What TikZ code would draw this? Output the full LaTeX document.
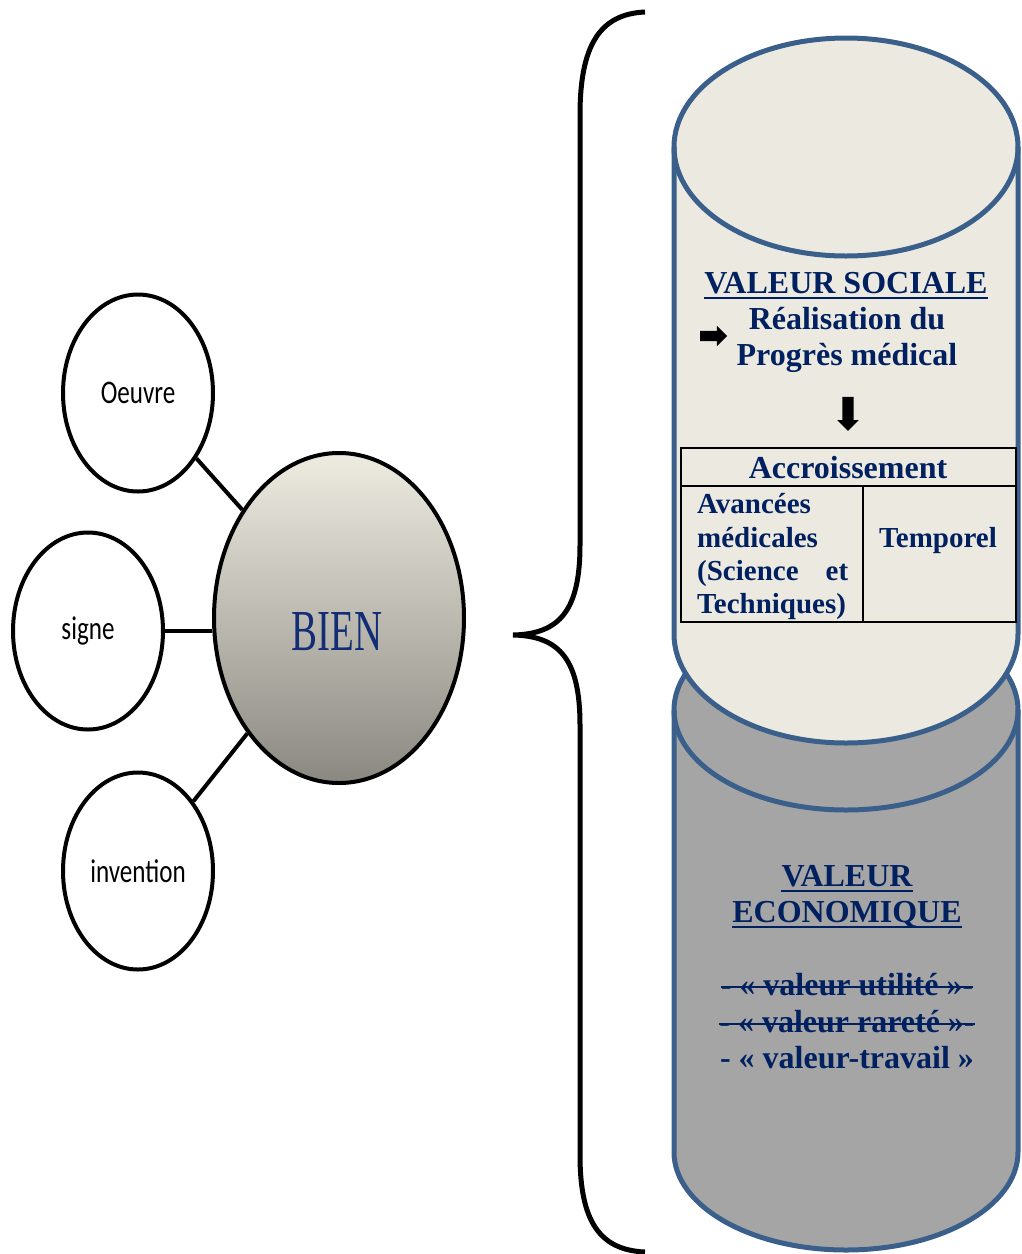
\documentclass[tikz,border=0pt]{standalone}
\usepackage{graphicx}
\usepackage{fontspec}
\setmainfont{Liberation Serif}
\newfontfamily\labelfont{Carlito}
\usetikzlibrary{shapes.geometric}
\usetikzlibrary{shapes.arrows}

\definecolor{inkblue}{RGB}{0,32,96}
\definecolor{bienblue}{RGB}{18,44,118}
\definecolor{rimblue}{RGB}{58,95,139}
\definecolor{creamfill}{RGB}{236,234,224}
\definecolor{greyfill}{RGB}{165,165,165}
\definecolor{bientop}{RGB}{238,236,225}
\definecolor{bienbottom}{RGB}{138,136,128}

\newcommand{\narrow}[2]{\scalebox{#1}[1]{#2}}

\begin{document}
\begin{tikzpicture}[x=1pt, y=1pt,
    bubble/.style={ellipse, draw=black, line width=4pt, fill=white, inner sep=0pt,
                   minimum width=150pt, minimum height=197pt,
                   font=\labelfont\fontsize{33}{36}\selectfont},
    link/.style={line width=4pt},
    rim/.style={draw=rimblue, line width=5pt, line join=round},
    bigtext/.style={text=inkblue, font=\bfseries\fontsize{32}{36}\selectfont,
                    inner sep=0pt, anchor=base},
    celltext/.style={text=inkblue, font=\bfseries\fontsize{29}{34}\selectfont,
                     inner sep=0pt, anchor=base west},
    rule/.style={draw=inkblue, line width=2.5pt},
    blockarrow/.style={single arrow, fill=black, inner xsep=0pt,
                       single arrow head extend=5pt}]
    \useasboundingbox (0,0) rectangle (1021,-1254);

    % lower cylinder
    \filldraw[rim, fill=greyfill] (674,-710) -- (674,-1152)
        arc[start angle=180, end angle=360, x radius=172, y radius=98]
        -- (1018,-710) arc[start angle=0, end angle=180, x radius=172, y radius=100] -- cycle;
    \draw[rim] (674,-710) arc[start angle=180, end angle=360, x radius=172, y radius=100];

    % upper cylinder
    \filldraw[rim, fill=creamfill] (674,-147) -- (674,-634)
        arc[start angle=180, end angle=360, x radius=172, y radius=109]
        -- (1018,-147) arc[start angle=0, end angle=180, x radius=172, y radius=109] -- cycle;
    \draw[rim] (674,-147) arc[start angle=180, end angle=360, x radius=172, y radius=109];

    % brace
    \draw[line width=5pt] (645,-12) .. controls (600,-14) and (580,-45) .. (580,-115)
        -- (580,-545) .. controls (580,-610) and (560,-634) .. (513,-635)
        .. controls (560,-636) and (580,-660) .. (580,-725)
        -- (580,-1155) .. controls (580,-1222) and (600,-1250) .. (645,-1252);

    % left part
    \node[bubble] (oeuvre) at (138,-393) {\narrow{0.76}{Oeuvre}};
    \node[bubble] (signe) at (88,-631) {\narrow{0.76}{signe}};
    \node[bubble] (invention) at (138,-871) {\narrow{0.76}{invention}};
    \node[ellipse, draw=black, line width=4pt, top color=bientop, bottom color=bienbottom,
          minimum width=250pt, minimum height=330pt, inner sep=0pt] (bien) at (339,-618) {};
    \node[text=bienblue, font=\fontsize{58}{62}\selectfont, inner sep=0pt] (bienlabel)
        at (337,-632) {\narrow{0.67}{BIEN}};
    \draw[link] (oeuvre) -- (bien);
    \draw[link] (signe.east) -- (signe.east -| bien.west);
    \draw[link] (invention) -- (bien);

    % valeur sociale
    \node[bigtext] (sociale) at (846,-293) {VALEUR SOCIALE};
    \draw[rule] ([yshift=-5pt]sociale.base west) -- ([yshift=-5pt]sociale.base east);
    \node[bigtext] (realisation) at (847,-329) {Réalisation du};
    \node[bigtext] (progres) at (847,-365) {Progrès médical};
    \node[blockarrow, inner ysep=5pt, minimum height=27pt] (versprogres) at (711,-336) {};
    \node[blockarrow, inner ysep=5.5pt, minimum height=34pt, rotate=-90] (versaccroissement) at (848,-411) {};

    % tableau
    \draw[line width=2.5pt] (681,-448) rectangle (1016,-622);
    \draw[line width=2.5pt] (681,-486) -- (1016,-486);
    \draw[line width=2.5pt] (863,-486) -- (863,-622);
    \node[bigtext] (accroissement) at (848,-478) {Accroissement};
    \node[celltext] (avancees) at (697,-513) {Avancées};
    \node[celltext] (medicales) at (697,-547) {médicales};
    \node[celltext] (science) at (697,-580) {\makebox[151pt][s]{(Science et}};
    \node[celltext] (techniques) at (697,-613) {Techniques)};
    \node[celltext, anchor=base] (temporel) at (938,-547) {Temporel};

    % valeur economique
    \node[bigtext] (valeur) at (847,-886) {VALEUR};
    \draw[rule] ([yshift=-5pt]valeur.base west) -- ([yshift=-5pt]valeur.base east);
    \node[bigtext] (economique) at (847,-922) {ECONOMIQUE};
    \draw[rule] ([yshift=-5pt]economique.base west) -- ([yshift=-5pt]economique.base east);
    \node[bigtext] (utilite) at (847,-995) {- « valeur utilité »-};
    \draw[rule, line width=2pt] ([yshift=8pt]utilite.base west) -- ([yshift=8pt]utilite.base east);
    \node[bigtext] (rarete) at (847,-1032) {- « valeur rareté »-};
    \draw[rule, line width=2pt] ([yshift=8pt]rarete.base west) -- ([yshift=8pt]rarete.base east);
    \node[bigtext] (travail) at (847,-1068) {- « valeur-travail »};
\end{tikzpicture}
\end{document}
